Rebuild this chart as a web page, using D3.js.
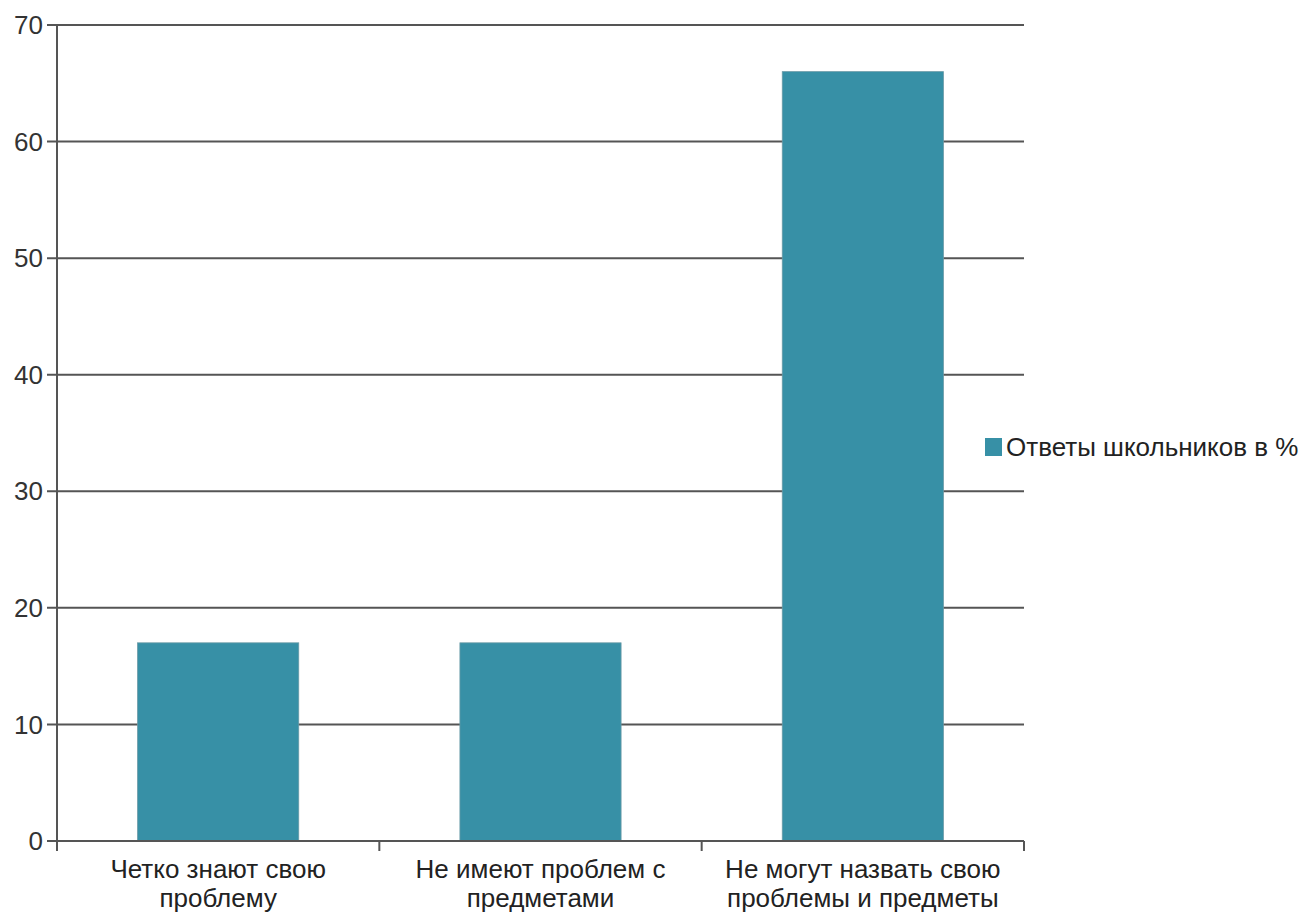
<!DOCTYPE html>
<html><head><meta charset="utf-8">
<script src="https://cdn.jsdelivr.net/npm/d3@7"></script>
<style>
html,body{margin:0;padding:0;background:#fff;}
svg{display:block;font-family:"Liberation Sans",Arial,sans-serif;}
</style></head>
<body>
<svg id="chart" width="1315" height="915"></svg>
<script>
const categories = [
  ["Четко знают свою", "проблему"],
  ["Не имеют проблем с", "предметами"],
  ["Не могут назвать свою", "проблемы и предметы"]
];
const values = [17, 17, 66];
const seriesName = "Ответы школьников в %";
const yTicks = [0, 10, 20, 30, 40, 50, 60, 70];

const svg = d3.select("#chart");
const mLeft = 57, mRight = 1024, mTop = 25, mBottom = 841;
const barColor = "#3790a6";
const lineColor = "#555";
const fs = 26;

const x = d3.scaleBand().domain(d3.range(categories.length)).range([mLeft, mRight]).paddingInner(0.5).paddingOuter(0.25);
const xCat = d3.scaleBand().domain(d3.range(categories.length)).range([mLeft, mRight]).padding(0);
const y = d3.scaleLinear().domain([0, 70]).range([mBottom, mTop]);

// gridlines
svg.append("g").selectAll("line").data(yTicks).join("line")
  .attr("x1", mLeft - 10).attr("x2", mRight)
  .attr("y1", d => y(d)).attr("y2", d => y(d))
  .attr("stroke", lineColor).attr("stroke-width", 2);

// y labels
svg.append("g").selectAll("text").data(yTicks).join("text")
  .attr("x", mLeft - 14).attr("y", d => y(d)).attr("dy", "0.35em")
  .attr("text-anchor", "end").attr("font-size", fs).attr("fill", "#333")
  .text(d => d);

// bars
svg.append("g").selectAll("rect").data(values).join("rect")
  .attr("x", (d, i) => x(i)).attr("width", x.bandwidth())
  .attr("y", d => y(d)).attr("height", d => y(0) - y(d))
  .attr("fill", barColor).attr("stroke", "#6a9aa6").attr("stroke-width", 0.8);

// y axis line
svg.append("line").attr("x1", mLeft).attr("x2", mLeft).attr("y1", mTop).attr("y2", mBottom + 10)
  .attr("stroke", lineColor).attr("stroke-width", 2);

// x axis line
svg.append("line").attr("x1", mLeft).attr("x2", mRight).attr("y1", mBottom).attr("y2", mBottom)
  .attr("stroke", lineColor).attr("stroke-width", 2);

// category ticks
const bounds = d3.range(categories.length).map(i => xCat(i) + xCat.bandwidth());
svg.append("g").selectAll("line").data(bounds).join("line")
  .attr("x1", d => d).attr("x2", d => d).attr("y1", mBottom).attr("y2", mBottom + 10)
  .attr("stroke", lineColor).attr("stroke-width", 2);

// category labels
const lab = svg.append("g").selectAll("text").data(categories).join("text")
  .attr("x", (d, i) => xCat(i) + xCat.bandwidth() / 2)
  .attr("y", mBottom + 37)
  .attr("text-anchor", "middle").attr("font-size", fs).attr("fill", "#222");
lab.selectAll("tspan").data(d => d).join("tspan")
  .attr("x", function() { return this.parentNode.getAttribute("x"); })
  .attr("dy", (d, j) => j === 0 ? 0 : 29)
  .text(d => d);

// legend
const lg = svg.append("g").attr("transform", "translate(985,447)");
lg.append("rect").attr("x", 0).attr("y", -9).attr("width", 17).attr("height", 18).attr("fill", barColor);
lg.append("text").attr("x", 21).attr("y", 0).attr("dy", "0.35em").attr("font-size", fs).attr("fill", "#222").text(seriesName);
</script>
</body></html>
